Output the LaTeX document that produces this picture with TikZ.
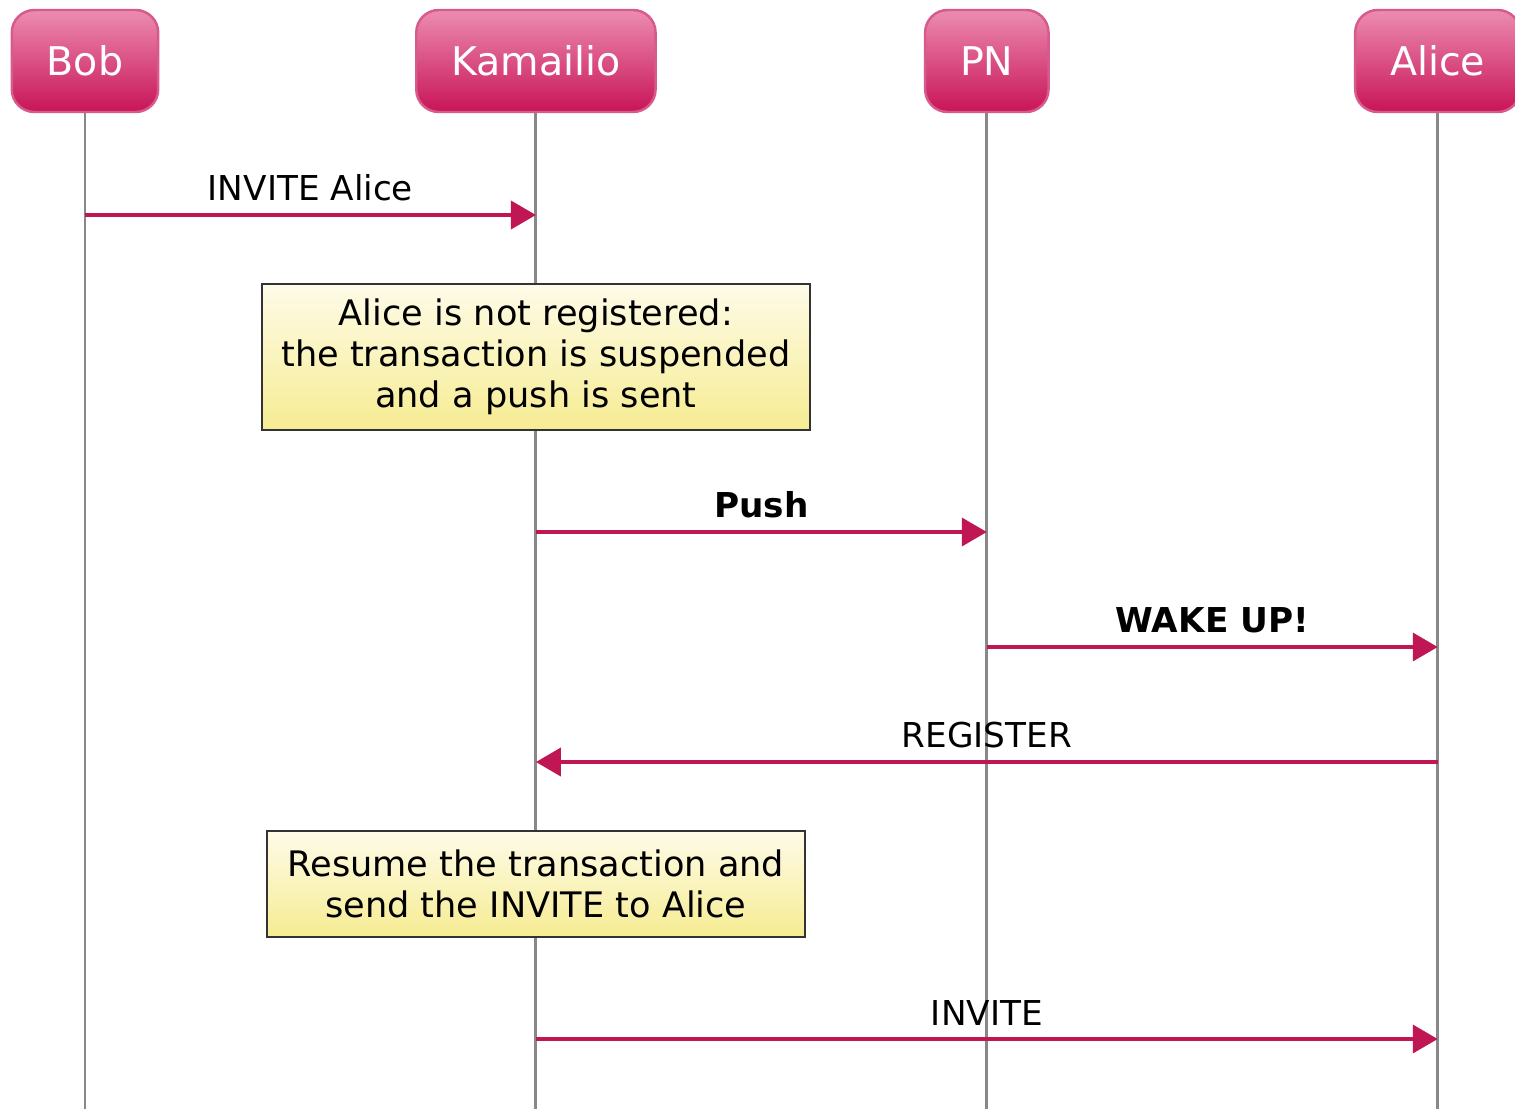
\documentclass[tikz,border=0pt]{standalone}
\usepackage{fontspec}
\setmainfont{DejaVu Sans}
\usetikzlibrary{arrows.meta,positioning}
\definecolor{msgred}{RGB}{192,22,84}
\definecolor{lifegrey}{RGB}{136,136,136}
\definecolor{actortop}{RGB}{236,140,176}
\definecolor{actorbottom}{RGB}{200,20,88}
\definecolor{actorborder}{RGB}{214,90,140}
\definecolor{notetop}{RGB}{254,251,232}
\definecolor{notebottom}{RGB}{246,236,146}

\begin{document}
\begin{tikzpicture}[x=0.02cm,y=-0.02cm,>={Triangle[length=0.5cm,width=0.56cm]},node distance=9.02cm,
    actor/.style={rounded corners=0.45cm,draw=actorborder,line width=1.4pt,top color=actortop,bottom color=actorbottom,text=white,font=\fontsize{22.5}{27}\selectfont,minimum height=2.04cm,inner xsep=0.7cm},
    lifeline/.style={draw=lifegrey,line width=1.7pt},
    msg/.style={->,draw=msgred,line width=2.2pt},
    note/.style={draw=black!80,line width=1pt,top color=notetop,bottom color=notebottom,align=center,font=\fontsize{20}{23.5}\selectfont}]

    \useasboundingbox (0,0) rectangle (1515,1109);

    % participants
    \node[actor] (bob) at (85,61) {Bob};
    \node[actor] (kam) [right of=bob] {Kamailio};
    \node[actor] (pn) [right of=kam] {PN};
    \node[actor] (alice) [right of=pn] {Alice};

    \coordinate (bottom) at (0,1109);
    \foreach \n in {bob,kam,pn,alice}
        \draw[lifeline] (\n.south) -- (\n.south |- bottom);

    % notes
    \node[note,minimum width=10.96cm,minimum height=2.92cm] (suspend) at (kam |- 0,357)
        {Alice is not registered:\\the transaction is suspended\\and a push is sent};
    \node[note,minimum width=10.76cm,minimum height=2.12cm] (resume) at (kam |- 0,884)
        {Resume the transaction and\\send the INVITE to Alice};

    % message ends
    \coordinate (b1) at (bob |- 0,215);
    \coordinate (k1) at (kam |- 0,215);
    \coordinate (k2) at (kam |- 0,532);
    \coordinate (p2) at (pn |- 0,532);
    \coordinate (p3) at (pn |- 0,647);
    \coordinate (a3) at (alice |- 0,647);
    \coordinate (a4) at (alice |- 0,762);
    \coordinate (k4) at (kam |- 0,762);
    \coordinate (k5) at (kam |- 0,1039);
    \coordinate (a5) at (alice |- 0,1039);

    \path[every node/.style={font=\fontsize{19.5}{23}\selectfont,above,yshift=3.4pt}]
        (b1) edge[msg] node {INVITE Alice} (k1)
        (k2) edge[msg] node {\bfseries Push} (p2)
        (p3) edge[msg] node {\bfseries WAKE UP!} (a3)
        (a4) edge[msg] node {REGISTER} (k4)
        (k5) edge[msg] node {INVITE} (a5)
        ;
\end{tikzpicture}
\end{document}
